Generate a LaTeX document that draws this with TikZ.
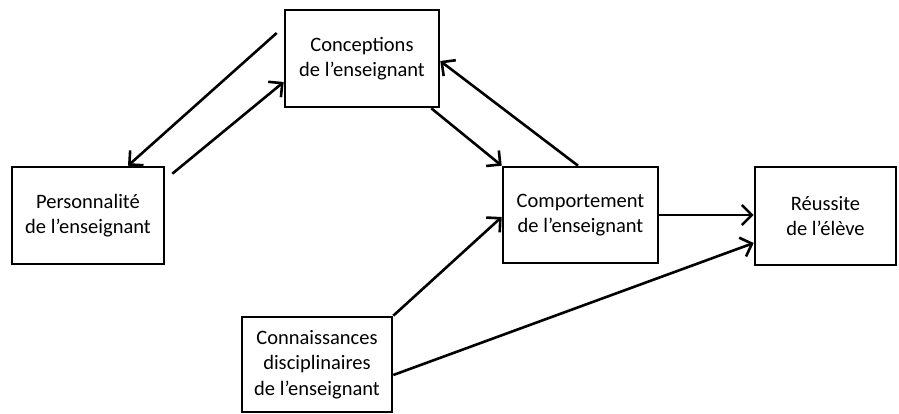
\documentclass[tikz,border=0pt]{standalone}
\usepackage{fontspec}
\setmainfont{Carlito}
\usetikzlibrary{arrows.meta}

\begin{document}
\begin{tikzpicture}[x=1pt, y=-1pt,
  box/.style={draw, line width=2.6pt, align=center, inner sep=0pt,
    font=\fontsize{20.5}{25.5}\selectfont},
  arr/.style={line width=2.6pt, -{Straight Barb[length=10pt,width=20pt]}}]
\useasboundingbox (0,0) rectangle (899,414);
% BOITES
\node[box, minimum width=154pt, minimum height=97pt] (conc) at (362,58.5) {Conceptions\\de l’enseignant};
\node[box, minimum width=152pt, minimum height=97pt] (pers) at (88,215.5) {Personnalité\\de l’enseignant};
\node[box, minimum width=155pt, minimum height=96pt] (comp) at (580.5,215) {Comportement\\de l’enseignant};
\node[box, minimum width=141pt, minimum height=98pt] (reus) at (825.5,216) {Réussite\\de l’élève};
\node[box, minimum width=150pt, minimum height=95pt] (conn) at (317,364.5) {Connaissances\\disciplinaires\\de l’enseignant};
% FLECHES
\draw[arr] ([xshift=-7pt,yshift=25.5pt]conc.west) -- ([xshift=40pt]pers.north);
\draw[arr] ([xshift=7pt,yshift=-8pt]pers.north east) -- ([yshift=-23.5pt]conc.west);
\draw[arr] ([xshift=-9pt]conc.south east) -- (comp.north west);
\draw[arr] ([xshift=-2.5pt]comp.north) -- ([yshift=-2.5pt]conc.east);
\draw[arr] (comp.east) -- (comp.east -| reus.west);
\draw[arr] (conn.north east) -- ([yshift=-2pt]comp.west);
\draw[arr] ([yshift=-10.5pt]conn.east) -- ([yshift=-27pt]reus.west);
\end{tikzpicture}
\end{document}
